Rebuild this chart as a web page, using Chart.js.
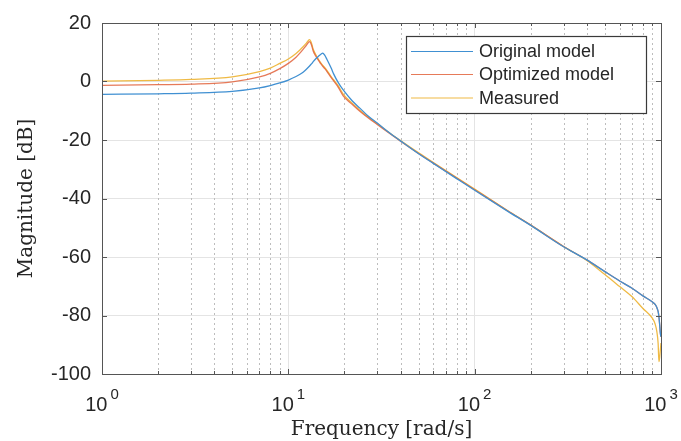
<!DOCTYPE html>
<html><head><meta charset="utf-8">
<script src="https://cdn.jsdelivr.net/npm/chart.js@4/dist/chart.umd.min.js"></script>
<style>html,body{margin:0;padding:0;background:#fff;}canvas{display:block;}</style>
</head><body>
<canvas id="c" width="681" height="441"></canvas>
<script>
// Frequency points [rad/s]
const freq = [1, 2, 3, 5, 7, 8, 9, 10, 11, 11.5, 12, 12.5, 13, 13.3, 13.6, 14, 14.5, 15, 15.3, 15.7, 16.1, 17, 17.5, 18.5, 19.7, 22, 24.2, 27, 30, 35, 40, 50, 60, 80, 100, 150, 200, 300, 400, 500, 600, 700, 800, 900, 930, 950, 965, 975, 985, 992, 1000];
// Magnitudes [dB]
const originalModel = [-4.4, -4.2, -4.0, -3.4, -2.2, -1.4, -0.5, 0.5, 1.7, 2.4, 3.2, 4.2, 5.3, 6.0, 6.8, 7.7, 8.6, 9.4, 9.7, 8.9, 7.6, 4.5, 2.6, -0.3, -2.9, -6.6, -9.1, -12.0, -14.2, -17.6, -20.3, -24.7, -28.0, -33.2, -37.2, -44.3, -49.2, -56.5, -61.0, -65.0, -68.2, -70.7, -73.3, -75.4, -76.2, -77.3, -78.6, -80.5, -83.5, -86.0, -87.3];
const optimizedModel = [-1.35, -1.1, -0.9, -0.1, 1.6, 2.8, 4.4, 6.2, 8.3, 9.6, 11.0, 12.4, 13.6, 12.6, 10.4, 8.8, 7.3, 5.9, 5.2, 4.4, 3.5, 1.3, 0.2, -1.9, -4.9, -7.8, -10.2, -12.6, -14.7, -17.8, -20.4, -24.6, -27.9, -33.0, -37.0, -44.2, -49.1, -56.4, -61.0, -65.0, -68.2, -70.7, -73.3, -75.4, -76.2, -77.3, -78.6, -80.5, -83.5, -86.0, -87.3];
const measured = [0.1, 0.4, 0.7, 1.6, 3.4, 4.6, 6.2, 7.7, 9.6, 10.7, 11.9, 13.1, 14.3, 13.2, 11.0, 9.3, 7.6, 6.2, 5.5, 4.7, 3.8, 1.6, 0.6, -1.4, -4.3, -7.4, -9.8, -12.3, -14.4, -17.6, -20.2, -24.4, -27.7, -32.8, -36.8, -44.1, -49.1, -56.4, -61.2, -66.0, -70.1, -73.6, -77.6, -81.0, -82.9, -85.5, -89.5, -95.8, -94.0, -91.8, -89.4];

const seriesNames = ['Original model', 'Optimized model', 'Measured'];
const seriesColors = ['#4090d2', 'rgba(226,100,62,0.86)', '#efba45'];
const xTickValues = [1, 10, 100, 1000];
const xTickExponents = ['0', '1', '2', '3'];
const yTickValues = [-100, -80, -60, -40, -20, 0, 20];
const xTitle = 'Frequency [rad/s]';
const yTitle = 'Magnitude [dB]';

const toPts = arr => freq.map((f, i) => ({x: f, y: arr[i]}));
const series = [originalModel, optimizedModel, measured];

const AXIS = '#555555';
const TXT = '#262626';

const decor = {
  id: 'decor',
  beforeDatasetsDraw(chart) {
    const {ctx, chartArea: a, scales: {x}} = chart;
    ctx.save();
    ctx.strokeStyle = '#bdbdbd';
    ctx.lineWidth = 1;
    ctx.setLineDash([2, 3]);
    for (let d = 0; d < 3; d++) {
      for (let m = 2; m <= 9; m++) {
        const px = Math.round(x.getPixelForValue(m * Math.pow(10, d))) + 0.5;
        ctx.beginPath(); ctx.moveTo(px, a.top); ctx.lineTo(px, a.bottom); ctx.stroke();
      }
    }
    ctx.restore();
  },
  afterDatasetsDraw(chart) {
    const {ctx, chartArea: a, scales: {x, y}} = chart;
    ctx.save();
    ctx.strokeStyle = AXIS;
    ctx.lineWidth = 1;
    ctx.strokeRect(Math.round(a.left) + 0.5, Math.round(a.top) + 0.5, Math.round(a.right - a.left), Math.round(a.bottom - a.top));
    ctx.beginPath();
    for (let d = 0; d <= 3; d++) {
      for (let m = 1; m <= 9; m++) {
        const v = m * Math.pow(10, d);
        if (v > 1000) break;
        const px = Math.round(x.getPixelForValue(v)) + 0.5;
        const len = m === 1 ? 5 : 3;
        ctx.moveTo(px, a.bottom); ctx.lineTo(px, a.bottom - len);
        ctx.moveTo(px, a.top); ctx.lineTo(px, a.top + len);
      }
    }
    yTickValues.forEach(v => {
      const py = Math.round(y.getPixelForValue(v)) + 0.5;
      ctx.moveTo(a.left, py); ctx.lineTo(a.left + 5, py);
      ctx.moveTo(a.right, py); ctx.lineTo(a.right - 5, py);
    });
    ctx.stroke();

    ctx.fillStyle = TXT;
    ctx.textBaseline = 'alphabetic';
    xTickValues.forEach((v, i) => {
      const px = x.getPixelForValue(v);
      ctx.font = '20px "Liberation Sans", Arial, sans-serif';
      const wb = ctx.measureText('10').width;
      ctx.font = '15px "Liberation Sans", Arial, sans-serif';
      const we = ctx.measureText(xTickExponents[i]).width;
      const total = wb + 3 + we;
      const x0 = px - total / 2;
      ctx.font = '20px "Liberation Sans", Arial, sans-serif';
      ctx.textAlign = 'left';
      ctx.fillText('10', x0, 411);
      ctx.font = '15px "Liberation Sans", Arial, sans-serif';
      ctx.fillText(xTickExponents[i], x0 + wb + 3, 399);
    });

    const lx = 406, ly = 36, lw = 240, lh = 77;
    ctx.fillStyle = '#ffffff';
    ctx.fillRect(lx, ly, lw, lh);
    ctx.strokeStyle = '#3a3a3a';
    ctx.lineWidth = 1.2;
    ctx.strokeRect(lx + 0.5, ly + 0.5, lw, lh);
    ctx.font = '18px "Liberation Sans", Arial, sans-serif';
    ctx.textBaseline = 'middle';
    ctx.textAlign = 'left';
    const rows = [51.5, 74.5, 98];
    chart.data.datasets.forEach((ds, i) => {
      ctx.strokeStyle = ds.borderColor;
      ctx.lineWidth = 1.2;
      ctx.beginPath(); ctx.moveTo(411, rows[i]); ctx.lineTo(473, rows[i]); ctx.stroke();
      ctx.fillStyle = TXT;
      ctx.fillText(ds.label, 479, rows[i] + 1);
    });
    ctx.restore();
  }
};

new Chart(document.getElementById('c'), {
  type: 'line',
  data: {
    datasets: series.map((s, i) => ({
      label: seriesNames[i],
      data: toPts(s),
      borderColor: seriesColors[i],
      backgroundColor: seriesColors[i],
      borderWidth: 1.3,
      pointRadius: 0,
      cubicInterpolationMode: 'monotone',
      fill: false
    }))
  },
  options: {
    responsive: false,
    animation: false,
    devicePixelRatio: 1,
    layout: {padding: {top: 19, right: 20, left: 0, bottom: 0}},
    plugins: {legend: {display: false}, tooltip: {enabled: false}},
    scales: {
      x: {
        type: 'logarithmic', min: 1, max: 1000,
        afterBuildTicks: s => { s.ticks = xTickValues.map(v => ({value: v})); },
        afterFit: s => { s.height = 67; },
        grid: {color: '#e4e4e4', lineWidth: 1, drawTicks: false},
        border: {color: AXIS, width: 1},
        ticks: {display: false},
        title: {display: true, text: xTitle, color: TXT, font: {family: '"DejaVu Serif", "Liberation Serif", serif', size: 20, lineHeight: 1}, padding: {top: 0, bottom: 1}}
      },
      y: {
        type: 'linear', min: -100, max: 20,
        afterBuildTicks: s => { s.ticks = yTickValues.map(v => ({value: v})); },
        afterFit: s => { s.width = 102; },
        grid: {color: '#e4e4e4', lineWidth: 1, drawTicks: false},
        border: {color: AXIS, width: 1},
        ticks: {color: TXT, padding: 11, font: {family: '"Liberation Sans", Arial, sans-serif', size: 20}},
        title: {display: true, text: yTitle, color: TXT, font: {family: '"DejaVu Serif", "Liberation Serif", serif', size: 20, lineHeight: 1}, padding: {top: 17, bottom: 0}}
      }
    }
  },
  plugins: [decor]
});
</script>
</body></html>
